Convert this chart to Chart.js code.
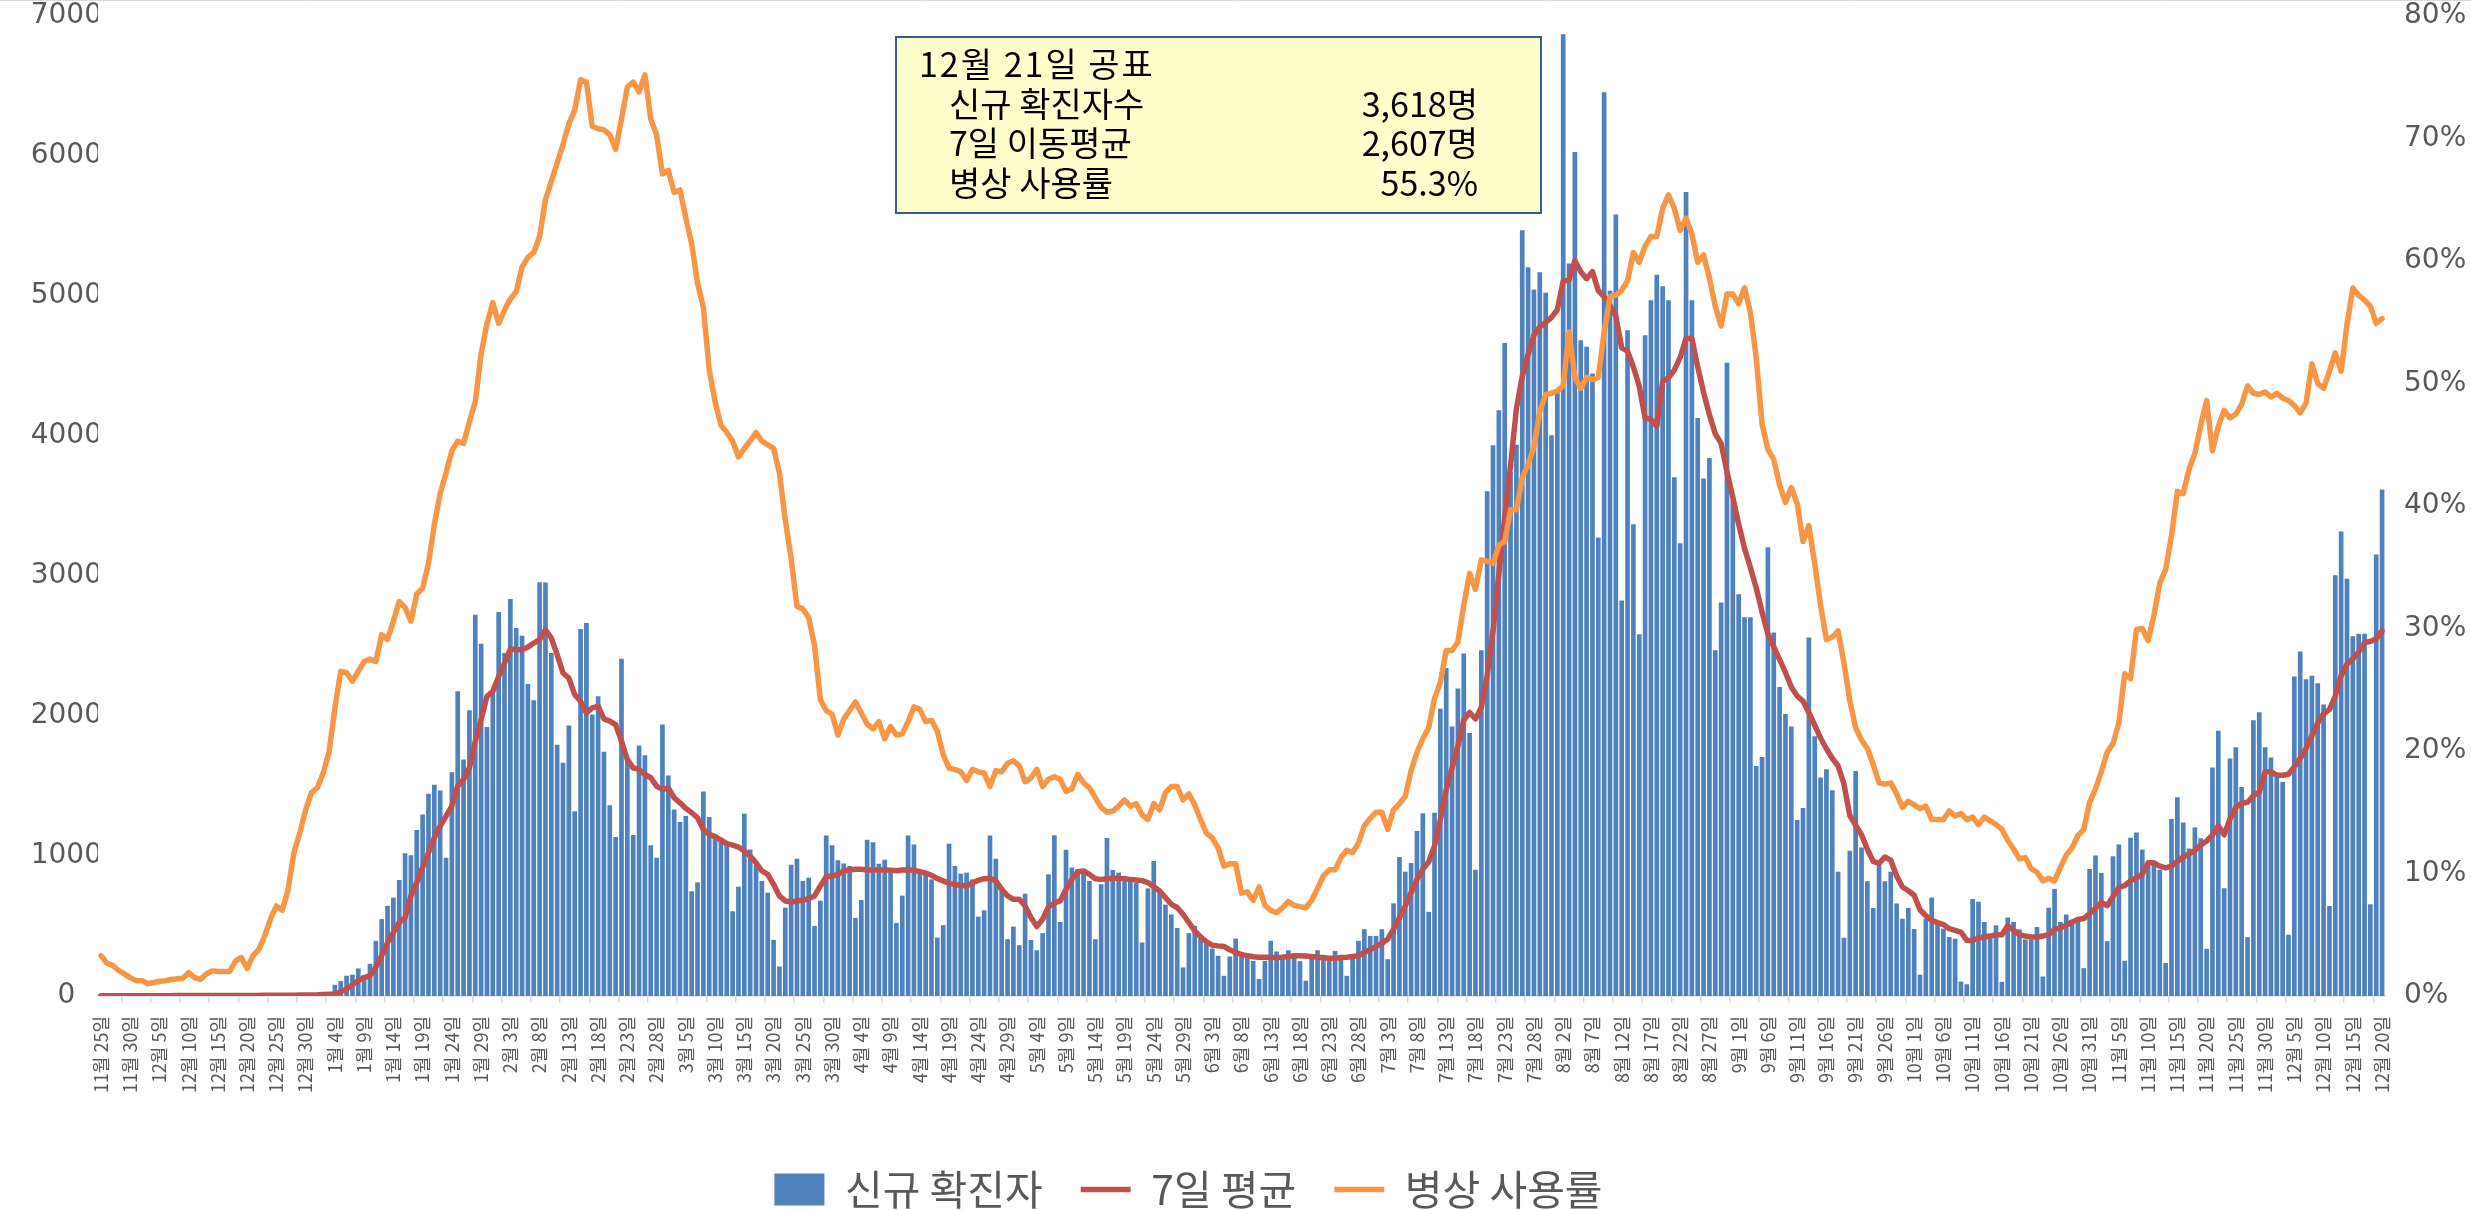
<!DOCTYPE html>
<html lang="ko">
<head>
<meta charset="utf-8">
<title>신규 확진자 · 7일 평균 · 병상 사용률</title>
<script src="https://cdn.jsdelivr.net/npm/chart.js@4.4.1/dist/chart.umd.min.js"></script>
<style>
  html, body { margin: 0; padding: 0; background: #ffffff; }
  #wrap { width: 2471px; height: 1210px; }
</style>
</head>
<body>
<div id="wrap"><canvas id="dataChart" width="2471" height="1210"></canvas></div>
<script>
// daily values, 2020-11-25 .. 2021-12-20 (391 days)
const firstDay = [2020, 11, 25];
const dayCount = 391;

// 신규 확진자 (bars, left axis)
const newCases = [
  1,2,1,2,2,1,3,2,2,2, 3,3,2,3,3,2,4,3,4,3, 3,4,4,5,4,3,5,5,6,5, 6,7,7,8,9,10,12,14,16,20,
  80,107,145,152,197,150,230,394,549,644, 703,829,1020,1005,1186,1297,1445,1509,1468,988,
  1599,2176,1689,2041,2723,2516,1922,2176,2742,2450, 2835,2628,2573,2229,2112,2956,2953,2450,1794,1666,
  1932,1319,2621,2664,2010,2141,1744,1362,1136,2409, 1694,1150,1789,1720,1076,988,1939,1575,1333,1242,
  1285,748,812,1461,1278,1142,1130,1095,605,781, 1301,1047,936,822,738,401,211,631,938,981,
  822,845,501,681,1147,1076,969,947,928,558, 686,1116,1099,945,974,881,522,717,1147,1083,
  881,869,833,418,506,1088,928,874,881,833, 567,612,1147,981,774,406,496,363,731,400,
  327,449,869,1149,529,1045,917,905,881,822, 406,798,1128,900,881,857,833,810,382,769,
  964,762,653,582,486,204,449,501,410,375, 339,287,144,282,410,282,270,251,121,251,
  394,318,294,327,287,249,109,282,327,294, 270,322,282,144,292,394,477,429,429,477,
  263,662,993,888,950,1178,1306,601,1309,2052, 2343,1925,2197,2447,1879,902,2470,3606,3934,4184,
  4665,3743,3938,5470,5206,5047,5170,5024,4006,4334, 6870,5233,6029,4684,4638,4447,3275,6456,5038,5583,
  2825,4756,3370,2584,4720,4970,5152,5070,4970,3706, 3234,5742,4970,4129,3697,3843,2470,2811,4524,3538,
  2870,2706,2706,1643,1707,3206,2597,2207,2015,1925, 1257,1343,2561,1856,1561,1620,1470,888,416,1038,
  1607,1061,820,629,934,820,888,661,552,629, 479,152,553,703,517,481,421,409,103,84,
  693,674,529,414,505,101,561,529,476,404, 404,493,139,630,765,529,582,541,565,199,
  907,1004,879,392,999,1083,252,1131,1167,1047, 951,938,902,236,1264,1420,1240,1054,1204,1126,
  337,1632,1895,770,1697,1777,1492,421,1969,2027, 1777,1704,1565,1529,438,2282,2461,2263,2287,2234,
  2082,643,3005,3318,2981,2569,2588,2588,655,3154, 3618
];

// 7일 평균 (red line, left axis)
const avg7 = [
  1,1,1,2,2,2,2,2,2,2, 2,2,2,3,3,3,3,3,3,3, 3,3,3,4,4,4,4,4,5,5, 5,5,6,6,7,7,8,9,11,13,
  15,30,50,80,110,130,145,205,288,382, 454,525,561,715,810,917,1024,1131,1214,1285,
  1357,1499,1547,1630,1820,1975,2141,2176,2283,2378, 2478,2473,2473,2492,2521,2545,2616,2557,2438,2307,
  2271,2153,2105,2022,2058,2070,1979,1963,1939,1820, 1689,1630,1618,1582,1559,1499,1476,1487,1416,1380,
  1340,1309,1273,1190,1154,1138,1114,1088,1078,1064, 1035,1000,952,893,869,798,715,679,672,679,
  684,696,715,786,852,857,869,893,900,905, 905,900,900,900,900,898,895,900,902,898,
  888,879,862,838,822,805,795,791,786,807, 826,838,841,822,762,715,691,691,643,560,
  496,548,636,665,679,762,833,888,893,869, 838,833,838,841,841,838,833,829,824,810,
  781,750,703,655,632,584,525,465,422,387, 363,358,354,330,311,296,287,280,277,277,
  275,275,277,282,287,287,285,282,277,273, 270,270,275,277,282,287,311,330,354,377,
  406,477,560,643,738,833,905,957,1071,1261, 1475,1629,1788,1970,2025,1979,2061,2288,2606,3015,
  3425,3788,4197,4425,4583,4720,4779,4811,4847,4902, 5106,5115,5252,5174,5124,5174,5038,4993,4933,4856,
  4629,4606,4493,4356,4129,4120,4070,4388,4415,4470, 4561,4697,4697,4493,4311,4152,4015,3947,3743,3561,
  3370,3197,3061,2915,2743,2584,2493,2402,2311,2207, 2143,2106,2025,1934,1843,1766,1698,1643,1515,1288,
  1220,1152,1048,961,948,993,970,857,779,752, 720,616,573,541,524,510,481,469,457,397,
  397,414,421,428,438,438,501,469,438,428, 421,421,428,438,476,486,505,529,546,553,
  589,626,669,645,710,775,789,823,842,871, 951,951,927,915,927,963,992,1016,1040,1078,
  1107,1151,1216,1151,1264,1348,1377,1384,1432,1456, 1601,1601,1577,1577,1584,1637,1697,1769,1859,1950,
  2017,2046,2143,2287,2371,2408,2456,2523,2533,2552, 2607
];

// 병상 사용률 % (orange line, right axis)
const bedRate = [
  3.3,2.7,2.5,2.1,1.8,1.5,1.25,1.25,1.0,1.1, 1.2,1.25,1.35,1.4,1.45,1.9,1.5,1.35,1.8,2.05,
  2.0,2.0,2.0,2.85,3.15,2.25,3.3,3.8,4.9,6.3, 7.35,7.0,8.7,11.7,13.3,15.2,16.6,17.0,18.2,19.9,
  23.5,26.5,26.4,25.7,26.5,27.3,27.5,27.3,29.5,29.1, 30.6,32.2,31.7,30.6,32.8,33.3,35.3,38.5,41.0,42.7,
  44.5,45.3,45.1,46.9,48.5,52.4,54.9,56.6,54.9,56.0, 56.9,57.5,59.5,60.3,60.7,62.0,65.0,66.5,68.0,69.5,
  71.2,72.3,74.8,74.6,71.0,70.8,70.7,70.3,69.1,71.6, 74.2,74.6,73.8,75.2,71.6,70.3,67.1,67.4,65.6,65.8,
  63.5,61.4,58.2,56.2,51.1,48.5,46.6,46.0,45.3,44.0, 44.7,45.3,46.0,45.3,45.0,44.7,42.7,38.9,35.7,31.8,
  31.6,30.9,28.6,24.2,23.3,23.0,21.3,22.6,23.3,24.0, 23.1,22.2,21.8,22.4,21.0,22.0,21.3,21.4,22.4,23.6,
  23.4,22.4,22.5,21.6,19.7,18.6,18.5,18.3,17.6,18.5, 18.3,18.2,17.1,18.4,18.3,19.0,19.2,18.8,17.5,17.8,
  18.5,17.1,17.7,17.9,17.7,16.7,16.9,18.1,17.4,17.0, 16.2,15.4,15.0,15.1,15.5,16.0,15.5,15.7,14.8,14.4,
  15.7,15.2,16.6,17.1,17.1,16.0,16.5,15.6,14.4,13.3, 12.9,12.1,10.6,10.8,10.8,8.4,8.5,7.8,8.9,7.4,
  7.0,6.8,7.2,7.7,7.4,7.3,7.2,7.8,8.8,9.8, 10.3,10.3,11.3,11.9,11.7,12.5,13.9,14.5,15.0,15.0,
  13.6,15.2,15.7,16.3,18.4,19.9,21.0,21.9,24.3,25.6, 28.2,28.2,28.9,31.9,34.5,33.2,35.6,35.5,35.3,36.8,
  37.1,39.7,39.7,42.3,43.4,44.8,47.7,49.1,49.2,49.4, 49.8,54.2,50.5,49.6,50.5,50.3,50.5,54.2,57.1,57.2,
  57.6,58.4,60.7,59.9,61.2,62.0,62.0,64.3,65.4,64.3, 62.5,63.5,62.2,59.9,60.5,58.6,56.3,54.7,57.3,57.3,
  56.5,57.8,55.8,52.1,46.7,44.6,43.8,41.7,40.3,41.5, 40.2,37.1,38.4,35.3,31.9,29.1,29.3,29.8,27.2,24.1,
  21.9,20.9,20.2,18.9,17.4,17.3,17.4,16.5,15.4,15.9, 15.6,15.3,15.5,14.4,14.4,14.4,15.1,14.7,14.9,14.4,
  14.6,14.0,14.6,14.3,14.0,13.6,12.7,12.0,11.2,11.3, 10.4,10.1,9.4,9.6,9.4,10.5,11.5,12.1,13.1,13.6,
  15.8,16.9,18.3,19.9,20.6,22.3,26.3,25.9,29.9,30.0, 29.0,31.1,33.7,34.8,37.6,41.2,41.0,43.0,44.3,46.6,
  48.6,44.5,46.5,47.8,47.2,47.5,48.3,49.8,49.2,49.1, 49.3,48.9,49.2,48.8,48.6,48.2,47.6,48.4,51.6,50.0,
  49.6,51.0,52.5,51.0,54.8,57.8,57.2,56.8,56.3,54.9, 55.3
];

// text box in the top middle
const noteTitle = '12월 21일 공표';
const noteRows = [
  ['신규 확진자수', '3,618명'],
  ['7일 이동평균', '2,607명'],
  ['병상 사용률', '55.3%']
];

const labelEvery = 5;

// category labels: one per day
const categories = [];
for (let i = 0; i < dayCount; i++) {
  const d = new Date(firstDay[0], firstDay[1] - 1, firstDay[2] + i);
  categories.push((d.getMonth() + 1) + '월 ' + d.getDate() + '일');
}

const KR = '"Noto Sans CJK KR", "Noto Sans", sans-serif';
const NUM = '"DejaVu Sans", Verdana, sans-serif';
const GREY = '#595959';
const LEGEND_SHIFT = 47;

// yellow note box + thin frame line at the top
const noteBox = {
  id: 'noteBox',
  beforeDraw(chart) {
    const c = chart.ctx;
    c.save();
    c.fillStyle = '#ffffff';
    c.fillRect(0, 0, chart.width, chart.height);
    c.strokeStyle = '#D9D9D9';
    c.lineWidth = 1;
    c.beginPath();
    c.moveTo(0, 0.5);
    c.lineTo(chart.width, 0.5);
    c.stroke();
    c.restore();
  },
  afterDraw(chart) {
    const c = chart.ctx;
    c.save();
    c.fillStyle = '#FFFFCC';
    c.fillRect(896, 37, 645, 176);
    c.strokeStyle = '#385D8A';
    c.lineWidth = 2;
    c.strokeRect(896, 37, 645, 176);
    c.fillStyle = '#000000';
    c.font = '34px ' + KR;
    c.textBaseline = 'middle';
    c.textAlign = 'left';
    c.letterSpacing = '2px';
    c.fillText(noteTitle, 919, 64);
    c.letterSpacing = '0px';
    noteRows.forEach((row, i) => {
      const y = 104 + i * 39.5;
      c.textAlign = 'left';
      c.fillText(row[0], 949, y);
      c.textAlign = 'right';
      c.fillText(row[1], 1478, y);
    });
    c.restore();
  }
};

// move the legend a bit to the left, as in the original
const legendShift = {
  id: 'legendShift',
  afterLayout(chart) {
    if (chart.legend) {
      chart.legend.left -= LEGEND_SHIFT;
      chart.legend.right -= LEGEND_SHIFT;
    }
  }
};

const ctx = document.getElementById('dataChart').getContext('2d');
let chart = new Chart(ctx, {
  type: 'bar',
  data: {
    labels: categories,
    datasets: [
      {
        type: 'bar',
        label: '신규 확진자',
        data: newCases,
        yAxisID: 'y',
        backgroundColor: '#4F81BD',
        barPercentage: 0.8,
        categoryPercentage: 1.0,
        order: 3
      },
      {
        type: 'line',
        label: '7일 평균',
        data: avg7,
        yAxisID: 'y',
        borderColor: '#C0504D',
        backgroundColor: '#C0504D',
        borderWidth: 5.5,
        pointRadius: 0,
        tension: 0,
        borderJoinStyle: 'round',
        borderCapStyle: 'round',
        order: 2
      },
      {
        type: 'line',
        label: '병상 사용률',
        data: bedRate,
        yAxisID: 'y2',
        borderColor: '#F79646',
        backgroundColor: '#F79646',
        borderWidth: 5.5,
        pointRadius: 0,
        tension: 0,
        borderJoinStyle: 'round',
        borderCapStyle: 'round',
        order: 1
      }
    ]
  },
  options: {
    responsive: false,
    animation: false,
    events: [],
    layout: { padding: { top: 16, left: 0, right: 0, bottom: -10 } },
    plugins: {
      tooltip: { enabled: false },
      legend: {
        position: 'bottom',
        labels: {
          usePointStyle: true,
          pointStyleWidth: 50,
          boxHeight: 32,
          padding: 38,
          color: GREY,
          font: { family: KR, size: 41 },
          sort: (a, b) => a.datasetIndex - b.datasetIndex,
          generateLabels(chart) {
            const items = Chart.defaults.plugins.legend.labels.generateLabels(chart);
            items.forEach(it => { it.pointStyle = it.datasetIndex === 0 ? 'rect' : 'line'; });
            return items;
          }
        }
      }
    },
    scales: {
      x: {
        offset: true,
        grid: {
          display: true,
          offset: true,
          drawOnChartArea: false,
          drawTicks: true,
          tickLength: 7,
          lineWidth: 1.5,
          color: c => (c.index !== undefined && c.index % labelEvery === 4) ? '#D9D9D9' : 'rgba(0,0,0,0)'
        },
        border: { display: true, color: '#D9D9D9', width: 1.5 },
        ticks: {
          autoSkip: false,
          minRotation: 90,
          maxRotation: 90,
          padding: 13,
          color: GREY,
          font: { family: KR, size: 18 },
          callback: function (value, index) {
            return index % labelEvery === 0 ? this.getLabelForValue(value) : '';
          }
        },
        afterFit: s => { s.height = 135; }
      },
      y: {
        position: 'left',
        min: 0,
        max: 7000,
        // hidden grid; labels centred in the axis box
        grid: { display: false, drawTicks: false },
        border: { display: false },
        ticks: {
          stepSize: 1000,
          padding: -4,
          crossAlign: 'center',
          color: GREY,
          font: { family: NUM, size: 28, lineHeight: 1.1 },
          callback: v => String(v)
        },
        afterFit: s => { s.width = 98; }
      },
      y2: {
        position: 'right',
        min: 0,
        max: 80,
        grid: { display: false, drawTicks: true, tickLength: 19 },
        border: { display: false },
        ticks: {
          stepSize: 10,
          padding: 0,
          color: GREY,
          font: { family: NUM, size: 28, lineHeight: 1.1 },
          callback: v => v + '%'
        },
        afterFit: s => { s.width = 86; }
      }
    }
  },
  plugins: [noteBox, legendShift]
});
</script>
</body>
</html>
